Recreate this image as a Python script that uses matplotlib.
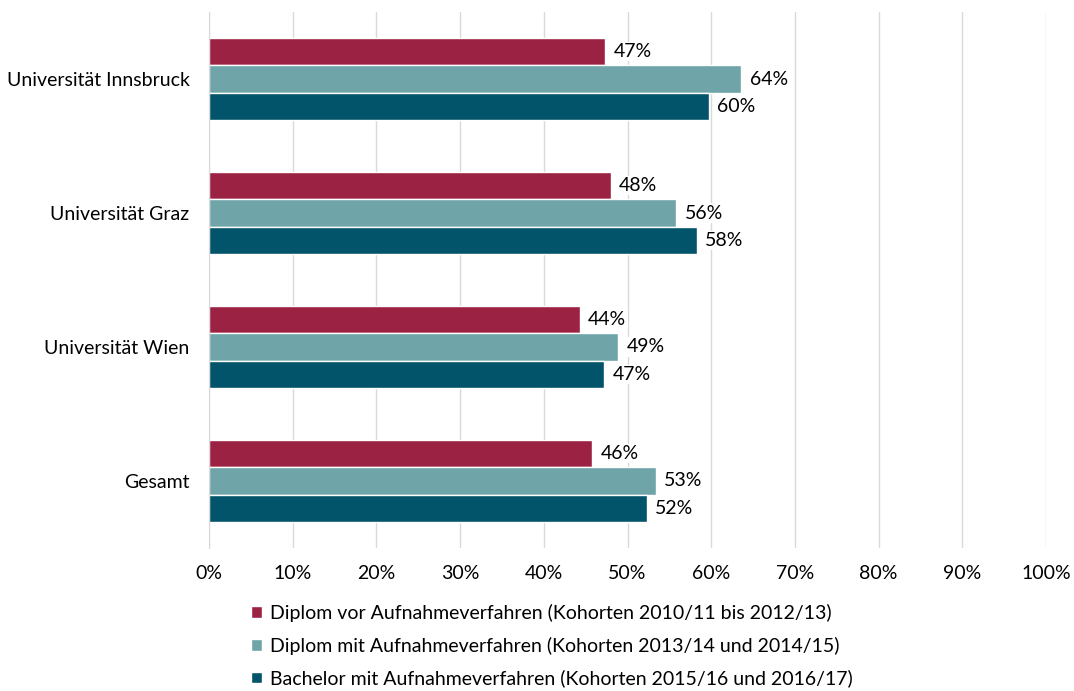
import numpy as np
import matplotlib.pyplot as plt
from matplotlib.ticker import PercentFormatter

plt.rcParams['font.family'] = ['Lato', 'DejaVu Sans']

categories = ['Universität Innsbruck', 'Universität Graz', 'Universität Wien', 'Gesamt']
series = [
    'Diplom vor Aufnahmeverfahren (Kohorten 2010/11 bis 2012/13)',
    'Diplom mit Aufnahmeverfahren (Kohorten 2013/14 und 2014/15)',
    'Bachelor mit Aufnahmeverfahren (Kohorten 2015/16 und 2016/17)',
]
diplom_vor = [47.3, 48.0, 44.3, 45.8]
diplom_mit = [63.6, 55.8, 48.9, 53.4]
bachelor = [59.7, 58.3, 47.2, 52.3]
colors = ['#9C2243', '#6FA5A8', '#02546A']

fig = plt.figure(figsize=(10.74, 6.91), dpi=100)
ax = fig.add_axes([0.1946, 0.207, 0.7794, 0.7756])

y = np.arange(len(categories))
h = 0.206
for i, (vals, col, lab) in enumerate(zip([diplom_vor, diplom_mit, bachelor], colors, series)):
    pos = y + (i - 1) * h
    ax.barh(pos, vals, height=h, color=col, edgecolor='white', linewidth=1, label=lab, zorder=2)
    for p, v in zip(pos, vals):
        ax.text(v + 1.0, p, f'{round(v):.0f}%', va='center', ha='left', fontsize=14,
                bbox=dict(facecolor='white', edgecolor='none', pad=1.0), zorder=3)

ax.set_xlim(0, 100)
ax.set_ylim(len(categories) - 0.5, -0.5)
ax.set_xticks(np.arange(0, 101, 10))
ax.xaxis.set_major_formatter(PercentFormatter(decimals=0))
ax.set_yticks(y)
ax.set_yticklabels(categories)
ax.tick_params(axis='both', length=0, labelsize=14, colors='black')
ax.tick_params(axis='x', pad=12)
ax.tick_params(axis='y', pad=14)
ax.grid(axis='x', color='#D9D9D9', linewidth=1, zorder=0)
for s in ['top', 'right', 'bottom']:
    ax.spines[s].set_visible(False)
ax.spines['left'].set_color('#D9D9D9')

fig.legend(loc='upper left', bbox_to_anchor=(0.234, 0.126), frameon=False, fontsize=14,
           handlelength=0.55, handleheight=0.55, handletextpad=0.4, labelspacing=0.76,
           borderaxespad=0, borderpad=0)

fig.savefig('out.png', dpi=100)
